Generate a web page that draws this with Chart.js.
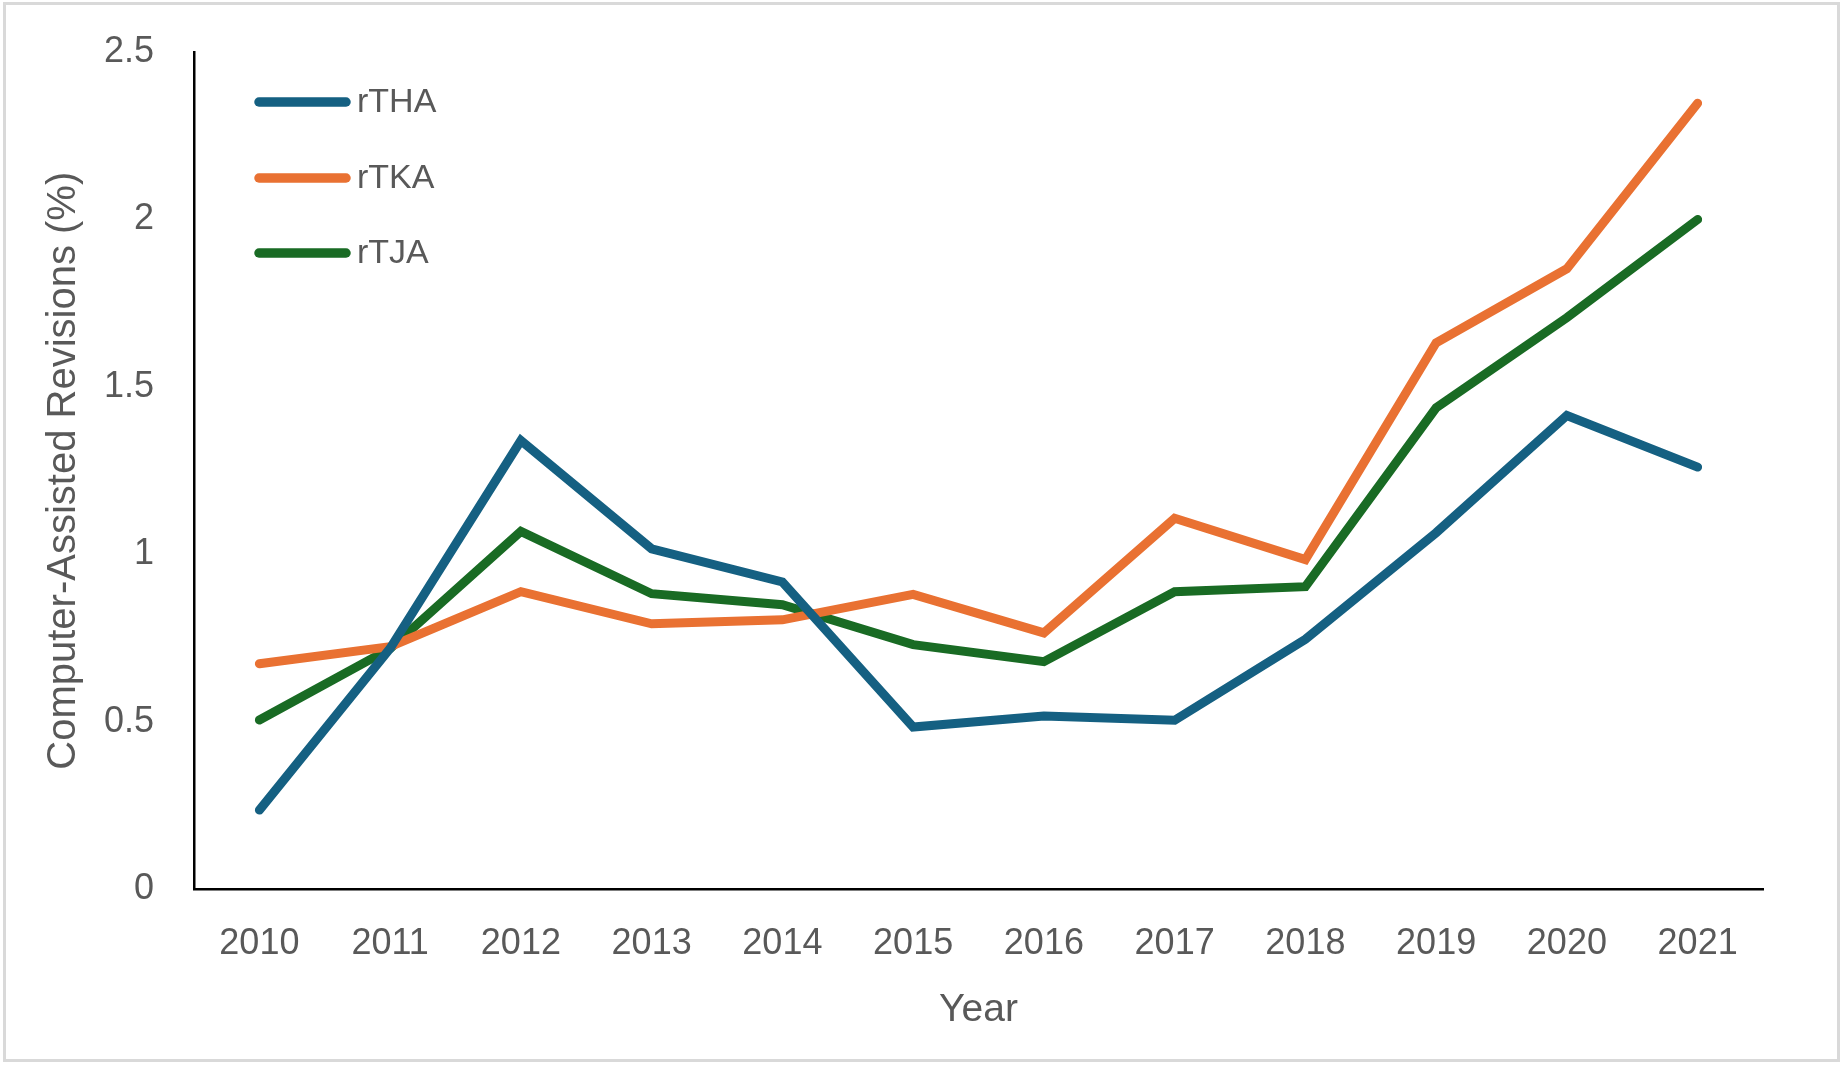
<!DOCTYPE html>
<html>
<head>
<meta charset="utf-8">
<script src="https://cdn.jsdelivr.net/npm/chart.js@4.4.1/dist/chart.umd.min.js"></script>
<style>
  html, body { margin: 0; padding: 0; background: #ffffff; }
  #wrap { width: 1847px; height: 1067px; position: relative; }
</style>
</head>
<body>
<div id="wrap"><canvas id="c" width="1847" height="1067"></canvas></div>
<script>
const years = ['2010','2011','2012','2013','2014','2015','2016','2017','2018','2019','2020','2021'];
const rTHA = [0.237, 0.72, 1.34, 1.017, 0.918, 0.485, 0.518, 0.505, 0.747, 1.065, 1.415, 1.261];
const rTKA = [0.674, 0.725, 0.889, 0.793, 0.805, 0.881, 0.766, 1.108, 0.985, 1.632, 1.853, 2.347];
const rTJA = [0.506, 0.719, 1.069, 0.883, 0.85, 0.731, 0.68, 0.889, 0.904, 1.438, 1.707, 2.0];
const yTickLabels = ['0', '0.5', '1', '1.5', '2', '2.5'];
const seriesNames = ['rTHA', 'rTKA', 'rTJA'];
const seriesColors = ['#156082', '#E97132', '#196B24'];
const xTitle = 'Year';
const yTitle = 'Computer-Assisted Revisions (%)';

const FONT = "'Liberation Sans', Arial, sans-serif";
const TEXT = '#595959';

const frame = {
  id: 'frame',
  beforeDraw(chart) {
    const ctx = chart.ctx;
    ctx.save();
    ctx.fillStyle = '#ffffff';
    ctx.fillRect(0, 0, chart.width, chart.height);
    ctx.strokeStyle = '#d9d9d9';
    ctx.lineWidth = 3;
    ctx.strokeRect(4.5, 3.5, 1834, 1057);
    ctx.restore();
  }
};

const innerLegend = {
  id: 'innerLegend',
  afterDatasetsDraw(chart) {
    const ctx = chart.ctx;
    ctx.save();
    const ys = [102, 178, 253];
    chart.data.datasets.forEach((ds, i) => {
      const y = ys[i];
      ctx.strokeStyle = ds.borderColor;
      ctx.lineWidth = 9.5;
      ctx.lineCap = 'round';
      ctx.beginPath();
      ctx.moveTo(259, y);
      ctx.lineTo(346, y);
      ctx.stroke();
      ctx.fillStyle = TEXT;
      ctx.font = "34px " + FONT;
      ctx.textBaseline = 'middle';
      ctx.textAlign = 'left';
      ctx.fillText(ds.label, 357, y + 1);
    });
    ctx.restore();
  }
};

const mk = (i, data) => ({
  label: seriesNames[i],
  data: data,
  borderColor: seriesColors[i],
  backgroundColor: seriesColors[i],
  borderWidth: 9,
  borderCapStyle: 'round',
  borderJoinStyle: 'miter',
  pointRadius: 0,
  pointHoverRadius: 0,
  tension: 0,
  fill: false
});

new Chart(document.getElementById('c'), {
  type: 'line',
  data: {
    labels: years,
    datasets: [mk(0, rTHA), mk(1, rTKA), mk(2, rTJA)]
  },
  options: {
    responsive: false,
    animation: false,
    devicePixelRatio: 1,
    layout: { padding: { left: 0, right: 84, top: 52, bottom: 0 } },
    plugins: {
      legend: { display: false },
      tooltip: { enabled: false },
      title: { display: false }
    },
    scales: {
      x: {
        type: 'category',
        offset: true,
        grid: { display: false, drawTicks: false },
        border: { display: true, color: '#000000', width: 2.5 },
        ticks: { color: TEXT, font: { family: FONT, size: 36 }, padding: 33, maxRotation: 0, autoSkip: false },
        title: { display: true, text: xTitle, color: TEXT, font: { family: FONT, size: 39 }, padding: { top: 0, bottom: 33.5 } },
        afterFit(scale) { scale.height = 177.5; }
      },
      y: {
        min: 0,
        max: 2.5,
        grid: { display: false, drawTicks: false },
        border: { display: true, color: '#000000', width: 2.5 },
        ticks: {
          stepSize: 0.5,
          color: TEXT,
          font: { family: FONT, size: 36 },
          padding: 40,
          callback: (v, i) => yTickLabels[i]
        },
        title: { display: true, text: yTitle, color: TEXT, font: { family: FONT, size: 40 }, padding: { top: 40, bottom: 0 } },
        afterFit(scale) { scale.width = 194; scale.paddingTop = 0; scale.paddingBottom = 0; }
      }
    }
  },
  plugins: [frame, innerLegend]
});
</script>
</body>
</html>
